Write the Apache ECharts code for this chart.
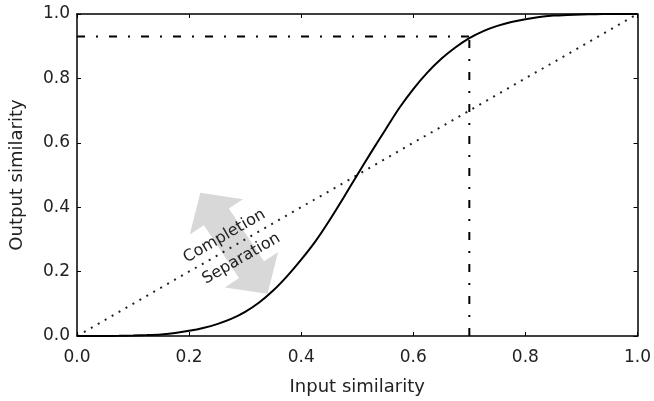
<!DOCTYPE html>
<html>
<head>
<meta charset="utf-8">
<script src="https://cdn.jsdelivr.net/npm/echarts@6/dist/echarts.min.js"></script>
<style>
  html, body { margin: 0; padding: 0; background: #fff; }
  #main { width: 654px; height: 401px; }
</style>
</head>
<body>
<div id="main"></div>
<script>
// input similarity (x) and output similarity (y) of the sigmoid curve
const inputSim = [0, 0.025, 0.05, 0.075, 0.1, 0.125, 0.15, 0.175, 0.2, 0.225, 0.25, 0.275, 0.3, 0.325, 0.35, 0.375, 0.4, 0.425, 0.45, 0.475, 0.5,
  0.525, 0.55, 0.575, 0.6, 0.625, 0.65, 0.675, 0.7, 0.725, 0.75, 0.775, 0.8, 0.825, 0.85, 0.875, 0.9, 0.925, 0.95, 0.975, 1];
const outputSim = [0, 0, 0.0002, 0.0006, 0.0014, 0.0028, 0.005, 0.009, 0.016, 0.025, 0.037, 0.053, 0.075, 0.104, 0.141, 0.186, 0.237, 0.293, 0.358, 0.428, 0.5,
  0.571, 0.64, 0.708, 0.767, 0.818, 0.861, 0.896, 0.925, 0.947, 0.963, 0.975, 0.984, 0.991, 0.995, 0.9972, 0.9986, 0.9994, 0.9998, 1, 1];
const identityLine = [[0, 0], [1, 1]];
const thresholdX = 0.7;
const thresholdY = 0.93;
const tickValues = [0, 0.2, 0.4, 0.6, 0.8, 1.0];

// annotation anchors, in data coordinates
const arrowFrom = [0.22, 0.445];
const arrowTo = [0.34, 0.131];
const notes = ['Completion', 'Separation'];
const noteAt = [[0.263, 0.31], [0.293, 0.24]];

const curve = inputSim.map((x, i) => [x, outputSim[i]]);
const font = '"DejaVu Sans", sans-serif';

const axisCommon = {
  type: 'value',
  min: tickValues[0],
  max: tickValues[tickValues.length - 1],
  interval: 0.2,
  splitLine: { show: false },
  axisLine: { show: true, onZero: false, lineStyle: { color: '#000', width: 1.5 } },
  axisTick: { show: true, inside: true, length: 4, lineStyle: { color: '#000', width: 1 } }
};

const labelStyle = {
  color: '#222',
  fontFamily: font,
  fontSize: 17,
  showMinLabel: true,
  showMaxLabel: true,
  formatter: v => v.toFixed(1)
};

const chart = echarts.init(document.getElementById('main'));
chart.setOption({
  animation: false,
  grid: { left: 74, right: 16, top: 14, bottom: 58 },
  xAxis: [
    Object.assign({}, axisCommon, {
      position: 'bottom',
      name: 'Input similarity',
      nameLocation: 'middle',
      nameGap: 42,
      nameTextStyle: { color: '#222', fontFamily: font, fontSize: 18 },
      axisLabel: Object.assign({ margin: 13 }, labelStyle)
    }),
    Object.assign({}, axisCommon, { position: 'top', axisLabel: { show: false } })
  ],
  yAxis: [
    Object.assign({}, axisCommon, {
      position: 'left',
      name: 'Output similarity',
      nameLocation: 'middle',
      nameGap: 51,
      nameTextStyle: { color: '#222', fontFamily: font, fontSize: 18 },
      axisLabel: Object.assign({ margin: 7 }, labelStyle)
    }),
    Object.assign({}, axisCommon, { position: 'right', axisLabel: { show: false } })
  ],
  series: [
    {
      type: 'custom',
      silent: true,
      z: 1,
      data: [arrowFrom],
      renderItem: function (params, api) {
        const a = api.coord(arrowFrom);
        const b = api.coord(arrowTo);
        const dx = b[0] - a[0], dy = b[1] - a[1];
        const len = Math.hypot(dx, dy);
        const ux = dx / len, uy = dy / len, nx = -uy, ny = ux;
        const headLen = 29, headW = 32, shaftW = 15;
        const p = (base, along, side) => [base[0] + ux * along + nx * side, base[1] + uy * along + ny * side];
        const points = [
          a,
          p(a, headLen, headW), p(a, headLen, shaftW),
          p(b, -headLen, shaftW), p(b, -headLen, headW),
          b,
          p(b, -headLen, -headW), p(b, -headLen, -shaftW),
          p(a, headLen, -shaftW), p(a, headLen, -headW)
        ];
        return { type: 'polygon', shape: { points: points }, style: { fill: '#d8d8d8' } };
      }
    },
    {
      type: 'line',
      data: identityLine,
      showSymbol: false,
      silent: true,
      z: 3,
      lineStyle: { color: '#222', width: 2, type: [2, 6], cap: 'butt' }
    },
    {
      type: 'line',
      data: [[0, thresholdY], [thresholdX, thresholdY]],
      showSymbol: false,
      silent: true,
      z: 3,
      lineStyle: { color: '#000', width: 2, type: [8, 11, 2, 11] }
    },
    {
      type: 'line',
      data: [[thresholdX, 0], [thresholdX, thresholdY]],
      showSymbol: false,
      silent: true,
      z: 3,
      lineStyle: { color: '#000', width: 2, type: [8, 11, 2, 11] }
    },
    {
      type: 'line',
      data: curve,
      showSymbol: false,
      silent: true,
      smooth: 0.3,
      z: 4,
      lineStyle: { color: '#000', width: 2 }
    },
    {
      type: 'custom',
      silent: true,
      z: 5,
      data: noteAt,
      renderItem: function (params, api) {
        const pt = api.coord(noteAt[params.dataIndex]);
        return {
          type: 'text',
          x: pt[0],
          y: pt[1],
          rotation: Math.PI / 6,
          style: {
            text: notes[params.dataIndex],
            x: 0, y: 0,
            align: 'center',
            verticalAlign: 'middle',
            fill: '#222',
            font: '16px ' + font
          }
        };
      }
    }
  ]
});
</script>
</body>
</html>
